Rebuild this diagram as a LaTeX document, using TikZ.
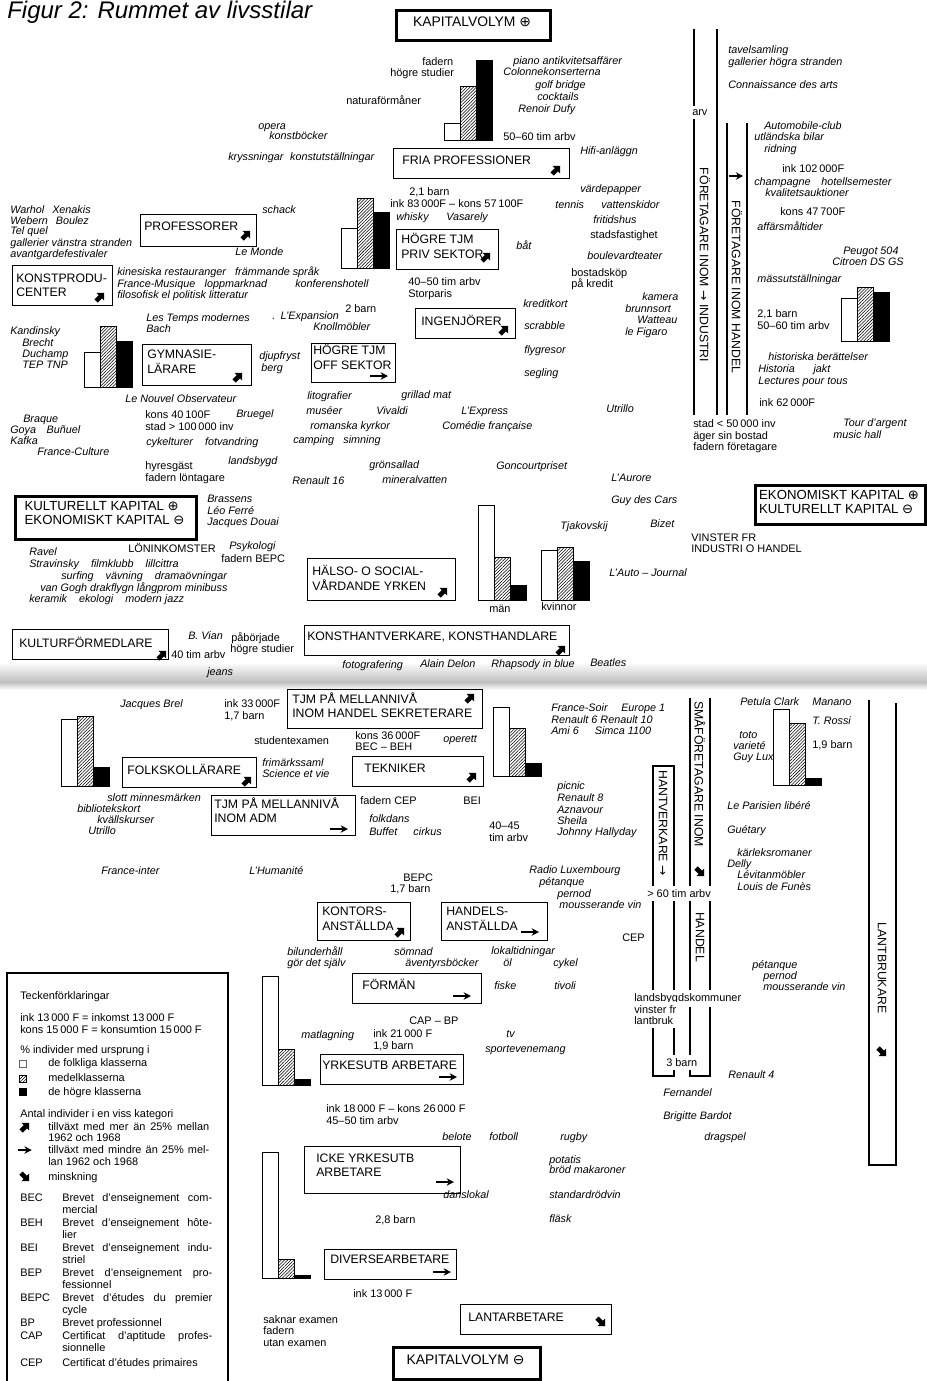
\documentclass[tikz,border=0pt]{standalone}
\usepackage{fontspec}
\setmainfont{Liberation Sans}
\newfontfamily\dejavu{DejaVu Sans}
\usetikzlibrary{patterns.meta,arrows.meta}
\newcounter{lb}
\tikzset{
 it/.style={font=\fontsize{8.1}{9.5}\selectfont\itshape,inner sep=0pt,anchor=mid west},
 rg/.style={font=\fontsize{8.2}{9.5}\selectfont,inner sep=0pt,anchor=mid west},
 box/.style={draw,line width=0.85pt,inner sep=0pt,anchor=north west},
 boxt/.style={font=\fontsize{9.2}{10.6}\selectfont,inner sep=0pt,anchor=west},
 kbox/.style={draw,line width=2.4pt,inner sep=0pt,anchor=north west},
 kboxt/.style={font=\fontsize{9.9}{10.6}\selectfont,inner sep=0pt,anchor=center},
 bar/.style={draw,line width=0.7pt},
 hatch/.style={pattern={Lines[angle=45,distance=1.7pt,line width=0.4pt]}},
 vl/.style={line width=0.8pt},
 vt/.style={font=\fontsize{9.2}{11}\selectfont,inner sep=0pt,rotate=-90},
 gup/.pic={\fill[rotate=45] (-5.5,-2.3) -- (0.5,-2.3) -- (0.5,-5.2) -- (6,0) -- (0.5,5.2) -- (0.5,2.3) -- (-5.5,2.3) -- cycle;},
 gdn/.pic={\fill[rotate=-45] (-5.5,-2.3) -- (0.5,-2.3) -- (0.5,-5.2) -- (6,0) -- (0.5,5.2) -- (0.5,2.3) -- (-5.5,2.3) -- cycle;},
 gth/.pic={\draw[line width=1.05pt,-{Stealth[length=5.5pt,width=5.5pt]}] (-9,0) -- (9,0);}
}
\newcommand\itx[3]{\stepcounter{lb}\node[it] (t\arabic{lb}) at (#1,#2) {#3};}
\newcommand\rgx[3]{\stepcounter{lb}\node[rg] (t\arabic{lb}) at (#1,#2) {#3};}
\newcommand\wtx[3]{\stepcounter{lb}\node[rg,fill=white,inner xsep=1.5pt,inner ysep=2.5pt] (t\arabic{lb}) at (#1,#2) {#3};}
\newcommand\jtx[4]{\stepcounter{lb}\pgfmathsetmacro\bxJ{#3*0.75}\node[rg] (t\arabic{lb}) at (#1,#2) {\makebox[\bxJ pt][s]{#4}};}
% \bx{name}{x1}{y1}{x2}{y2}{pad}{dy}{text}
\newcommand\bx[8]{%
 \pgfmathsetmacro\bxW{(#4-#2)*0.75}\pgfmathsetmacro\bxH{(#5-#3)*0.75}%
 \pgfmathsetmacro\bxY{(#3+#5)/2+#7}%
 \node[box,minimum width=\bxW pt,minimum height=\bxH pt] (#1) at (#2,#3) {};
 \node[boxt] (#1t) at ({#2+#6},\bxY) {\begin{tabular}{@{}l@{}}#8\end{tabular}};}
% \kbx{name}{x1}{y1}{x2}{y2}{dy}{text}
\newcommand\kbx[7]{%
 \pgfmathsetmacro\bxW{(#4-#2)*0.75}\pgfmathsetmacro\bxH{(#5-#3)*0.75}%
 \pgfmathsetmacro\bxY{(#3+#5)/2+#6}\pgfmathsetmacro\bxX{(#2+#4)/2}%
 \node[kbox,minimum width=\bxW pt,minimum height=\bxH pt] (#1) at (#2,#3) {};
 \node[kboxt] (#1t) at (\bxX,\bxY) {\begin{tabular}{@{}l@{}}#7\end{tabular}};}
\newcommand\bars[5]{%
 \draw[bar,fill=white] (#1,#3) rectangle ({#1+16},#2);
 \draw[bar,hatch] ({#1+16},#4) rectangle ({#1+32},#2);
 \draw[bar,fill=black] ({#1+32},#5) rectangle ({#1+48},#2);}
\begin{document}
\begin{tikzpicture}[x=0.75pt,y=-0.75pt]
\useasboundingbox (0,0) rectangle (927,1381);
\fill[white] (0,0) rectangle (927,1381);
\shade[top color=white,bottom color=black!25] (0,662) rectangle (927,682);
\shade[top color=black!25,bottom color=white] (0,682) rectangle (927,690);
\node[font=\fontsize{18}{22}\selectfont\itshape,anchor=base west,inner sep=0pt] (title) at (7,18) {Figur 2: Rummet av livsstilar};

% ---------- column frames, right side
\draw[vl] (694,29) -- (694,415);
\draw[vl] (717,29) -- (717,415);
\draw[vl] (727,123) -- (727,415);
\draw[vl] (747,123) -- (747,415);
\wtx{690}{112}{arv}
\node[vt] (findu) at (705,265) {FÖRETAGARE INOM {\dejavu →} INDUSTRI};
\node[vt] (fhand) at (737,287) {FÖRETAGARE INOM HANDEL};
\pic[scale=0.8] at (736,176) {gth};

\draw[vl] (653,766) rectangle (674,1076);
\draw[vl] (690,698) -- (690,1076) -- (710,1076) -- (710,698);
\draw[vl] (869,700) -- (869,1165) -- (896,1165) -- (896,703);
\node[vt] (hantv) at (663,823) {HANTVERKARE {\dejavu →}};
\node[vt] (smaf) at (700,774) {SMÅFÖRETAGARE INOM};
\pic at (700,872) {gdn};
\node[vt] (smah) at (700,937) {HANDEL};
\node[vt] (lantb) at (882,968) {LANTBRUKARE};
\pic at (882,1052) {gdn};
\wtx{645}{894}{> 60 tim arbv}
\wtx{632}{998}{landsbygdskommuner}
\wtx{632}{1010}{vinster fr}
\wtx{632}{1021}{lantbruk}
\wtx{664}{1063}{3 barn}

% ---------- top centre
\kbx{kvp}{395}{9}{549}{39}{0}{\fontsize{10.4}{11}\selectfont KAPITALVOLYM {\dejavu ⊕}}
\rgx{422}{62}{fadern}
\rgx{390}{73}{högre studier}
\rgx{346}{101}{naturaförmåner}
\bars{444}{140}{123}{86}{60}
\itx{513}{61}{piano antikvitetsaffärer}
\itx{503}{72}{Colonnekonserterna}
\itx{535}{85}{golf bridge}
\itx{537}{97}{cocktails}
\itx{518}{109}{Renoir Dufy}
\rgx{503}{137}{50–60 tim arbv}
\itx{258}{126}{opera}
\itx{269}{136}{konstböcker}
\itx{228}{157}{kryssningar\hspace{5pt}konstutställningar}
\itx{580}{151}{Hifi-anläggn}
\bx{fp}{393}{148}{569}{178}{9}{-1}{FRIA PROFESSIONER}
\pic at (556,170) {gup};
\rgx{409}{192}{2,1 barn}
\rgx{390}{204}{ink 83\,000F – kons 57\,100F}
\itx{396}{217}{whisky}
\itx{446}{217}{Vasarely}
\bars{341}{268}{228}{198}{212}
\bx{htps}{396}{229}{498}{269}{5}{-1}{HÖGRE TJM\\PRIV SEKTOR}
\pic at (486,257) {gup};
\itx{516}{246}{båt}
\rgx{408}{282}{40–50 tim arbv}
\rgx{408}{294}{Storparis}
\itx{580}{189}{värdepapper}
\itx{555}{205}{tennis}
\itx{601}{205}{vattenskidor}
\itx{593}{220}{fritidshus}
\rgx{590}{235}{stadsfastighet}
\itx{587}{256}{boulevardteater}
\rgx{571}{273}{bostadsköp}
\rgx{571}{284}{på kredit}
\itx{642}{297}{kamera}
\itx{625}{309}{brunnsort}
\itx{637}{320}{Watteau}
\itx{625}{332}{le Figaro}

% ---------- top left
\itx{10}{210}{Warhol\hspace{6pt}Xenakis}
\itx{10}{221}{Webern\hspace{6pt}Boulez}
\itx{10}{231}{Tel quel}
\itx{10}{243}{gallerier vänstra stranden}
\itx{10}{254}{avantgardefestivaler}
\bx{prof}{140}{214}{256}{246}{4}{-2}{PROFESSORER}
\pic at (246,235) {gup};
\itx{262}{210}{schack}
\itx{235}{252}{Le Monde}
\bx{kpc}{12}{265}{112}{305}{4}{2}{KONSTPRODU-\\CENTER}
\pic at (100,297) {gup};
\itx{117}{272}{kinesiska restauranger\hspace{7pt}främmande språk}
\itx{117}{284}{France-Musique\hspace{7pt}loppmarknad}
\itx{117}{295}{filosofisk el politisk litteratur}
\itx{295}{284}{konferenshotell}
\itx{146}{318}{Les Temps modernes}
\itx{146}{329}{Bach}
\itx{272}{316}{.\hspace{4pt}L'Expansion}
\itx{313}{327}{Knollmöbler}
\rgx{345}{309}{2 barn}
\itx{10}{331}{Kandinsky}
\itx{22}{343}{Brecht}
\itx{22}{354}{Duchamp}
\itx{22}{365}{TEP TNP}
\bars{84}{387}{352}{326}{341}
\bx{gym}{142}{344}{251}{385}{5}{-1.5}{GYMNASIE-\\LÄRARE}
\pic at (238,377) {gup};
\itx{259}{356}{djupfryst}
\itx{261}{368}{berg}
\bx{htos}{311}{343}{395}{382}{2}{-3.5}{HÖGRE TJM\\OFF SEKTOR}
\pic at (379,376) {gth};
\bx{ing}{415}{308}{515}{338}{6}{-1}{INGENJÖRER}
\pic at (504,330) {gup};
\itx{523}{304}{kreditkort}
\itx{524}{326}{scrabble}
\itx{524}{350}{flygresor}
\itx{524}{373}{segling}

% ---------- middle band
\itx{125}{399}{Le Nouvel Observateur}
\itx{307}{396}{litografier}
\itx{401}{395}{grillad mat}
\itx{306}{411}{muséer}
\itx{376}{411}{Vivaldi}
\itx{461}{411}{L'Express}
\itx{310}{426}{romanska kyrkor}
\itx{442}{426}{Comédie française}
\itx{293}{440}{camping\hspace{7pt}simning}
\itx{606}{409}{Utrillo}
\rgx{145}{415}{kons 40\,100F}
\itx{236}{414}{Bruegel}
\rgx{145}{427}{stad > 100\,000 inv}
\itx{23}{419}{Braque}
\itx{10}{430}{Goya\hspace{8pt}Buñuel}
\itx{10}{441}{Kafka}
\itx{37}{452}{France-Culture}
\itx{146}{442}{cykelturer\hspace{9pt}fotvandring}
\itx{228}{461}{landsbygd}
\rgx{145}{466}{hyresgäst}
\rgx{145}{478}{fadern löntagare}
\itx{292}{481}{Renault 16}
\itx{369}{465}{grönsallad}
\itx{382}{480}{mineralvatten}
\itx{496}{466}{Goncourtpriset}
\itx{611}{478}{L'Aurore}
\itx{611}{500}{Guy des Cars}
\itx{650}{524}{Bizet}
\itx{560}{526}{Tjakovskij}
\itx{609}{573}{L'Auto – Journal}
\kbx{kek}{14}{495}{195}{538}{-1.5}{KULTURELLT KAPITAL {\dejavu ⊕}\\EKONOMISKT KAPITAL {\dejavu ⊖}}
\itx{207}{499}{Brassens}
\itx{207}{511}{Léo Ferré}
\itx{207}{522}{Jacques Douai}
\rgx{128}{549}{LÖNINKOMSTER}
\itx{229}{546}{Psykologi}
\rgx{221}{559}{fadern BEPC}
\itx{29}{552}{Ravel}
\itx{29}{564}{Stravinsky\hspace{9pt}filmklubb\hspace{9pt}lillcittra}
\itx{61}{576}{surfing\hspace{9pt}vävning\hspace{9pt}dramaövningar}
\itx{40}{588}{van Gogh drakflygn långprom minibuss}
\itx{29}{599}{keramik\hspace{9pt}ekologi\hspace{9pt}modern jazz}
\bx{halso}{307}{558}{455}{600}{5}{1}{HÄLSO- O SOCIAL-\\VÅRDANDE YRKEN}
\pic at (443,592) {gup};
\bars{478}{600}{505}{557}{585}
\bars{541}{600}{550}{547}{561}
\rgx{489}{609}{män}
\rgx{541}{607}{kvinnor}
\bx{kform}{12}{629}{168}{659}{7}{0}{KULTURFÖRMEDLARE}
\pic at (162,655) {gup};
\itx{188}{636}{B. Vian}
\rgx{171}{655}{40 tim arbv}
\rgx{231}{638}{påbörjade}
\rgx{230}{649}{högre studier}
\itx{207}{672}{jeans}
\bx{konsth}{304}{625}{569}{655}{3}{-2}{KONSTHANTVERKARE, KONSTHANDLARE}
\pic at (561,650) {gup};
\itx{342}{665}{fotografering}
\itx{420}{664}{Alain Delon}
\itx{491}{664}{Rhapsody in blue}
\itx{590}{663}{Beatles}

% ---------- top right
\itx{728}{50}{tavelsamling}
\itx{728}{62}{gallerier högra stranden}
\itx{728}{85}{Connaissance des arts}
\itx{764}{126}{Automobile-club}
\itx{754}{137}{utländska bilar}
\itx{764}{149}{ridning}
\rgx{782}{169}{ink 102\,000F}
\itx{754}{182}{champagne\hspace{8pt}hotellsemester}
\itx{765}{193}{kvalitetsauktioner}
\rgx{780}{212}{kons 47\,700F}
\itx{757}{227}{affärsmåltider}
\itx{843}{251}{Peugot 504}
\itx{832}{262}{Citroen DS GS}
\itx{757}{279}{mässutställningar}
\bars{841}{341}{298}{287}{292}
\rgx{757}{314}{2,1 barn}
\rgx{757}{326}{50–60 tim arbv}
\itx{768}{357}{historiska berättelser}
\itx{758}{369}{Historia\hspace{14pt}jakt}
\itx{758}{381}{Lectures pour tous}
\rgx{759}{403}{ink 62\,000F}
\rgx{693}{424}{stad < 50\,000 inv}
\rgx{693}{436}{äger sin bostad}
\rgx{693}{447}{fadern företagare}
\itx{843}{423}{Tour d'argent}
\itx{833}{435}{music hall}
\kbx{eku}{754}{484}{924}{523}{0}{EKONOMISKT KAPITAL {\dejavu ⊕}\\KULTURELLT KAPITAL {\dejavu ⊖}}
\rgx{691}{538}{VINSTER FR}
\rgx{691}{549}{INDUSTRI O HANDEL}

% ---------- lower half
\itx{120}{704}{Jacques Brel}
\rgx{224}{704}{ink 33\,000F}
\rgx{224}{716}{1,7 barn}
\bx{tjmh}{287}{689}{482}{728}{5}{-1}{TJM PÅ MELLANNIVÅ\\INOM HANDEL SEKRETERARE}
\pic at (470,698) {gup};
\rgx{254}{741}{studentexamen}
\rgx{355}{736}{kons 36\,000F}
\rgx{355}{747}{BEC – BEH}
\itx{443}{739}{operett}
\bars{61}{786}{719}{716}{767}
\bx{folk}{122}{757}{256}{787}{5}{-1}{FOLKSKOLLÄRARE}
\pic at (247,781) {gup};
\itx{262}{763}{frimärkssaml}
\itx{262}{774}{Science et vie}
\bx{tekn}{352}{756}{483}{786}{12}{-1}{TEKNIKER}
\pic at (472,777) {gup};
\bars{493}{776}{707}{728}{763}
\itx{551}{708}{France-Soir}
\itx{621}{708}{Europe 1}
\itx{551}{720}{Renault 6 Renault 10}
\itx{551}{731}{Ami 6\hspace{12pt}Simca 1100}
\itx{107}{798}{slott minnesmärken}
\itx{77}{809}{bibliotekskort}
\itx{97}{820}{kvällskurser}
\itx{88}{831}{Utrillo}
\bx{tjma}{211}{795}{355}{835}{3}{-3}{TJM PÅ MELLANNIVÅ\\INOM ADM}
\pic at (339,829) {gth};
\rgx{360}{801}{fadern CEP}
\rgx{463}{801}{BEI}
\itx{369}{819}{folkdans}
\itx{369}{832}{Buffet\hspace{12pt}cirkus}
\rgx{489}{826}{40–45}
\rgx{489}{838}{tim arbv}
\itx{557}{786}{picnic}
\itx{557}{798}{Renault 8}
\itx{557}{810}{Aznavour}
\itx{557}{821}{Sheila}
\itx{557}{832}{Johnny Hallyday}
\itx{101}{871}{France-inter}
\itx{249}{871}{L'Humanité}
\rgx{403}{878}{BEPC}
\rgx{390}{889}{1,7 barn}
\itx{529}{870}{Radio Luxembourg}
\itx{539}{882}{pétanque}
\itx{557}{894}{pernod}
\itx{559}{905}{mousserande vin}
\bx{kont}{317}{902}{410}{940}{5}{-1}{KONTORS-\\ANSTÄLLDA}
\pic at (400,932) {gup};
\bx{hand}{441}{902}{547}{940}{5}{-1}{HANDELS-\\ANSTÄLLDA}
\pic at (530,932) {gth};
\rgx{622}{938}{CEP}
\itx{287}{952}{bilunderhåll}
\itx{287}{963}{gör det själv}
\itx{394}{952}{sömnad}
\itx{405}{963}{äventyrsböcker}
\itx{491}{951}{lokaltidningar}
\itx{503}{963}{öl}
\itx{553}{963}{cykel}
\bx{form}{352}{973}{481}{1003}{10}{-2}{FÖRMÄN}
\pic at (462,996) {gth};
\itx{494}{986}{fiske}
\itx{554}{986}{tivoli}

\bars{262}{1085}{976}{1049}{1079}
\itx{301}{1035}{matlagning}
\rgx{373}{1034}{ink 21\,000 F}
\rgx{373}{1046}{1,9 barn}
\rgx{409}{1021}{CAP – BP}
\itx{506}{1034}{tv}
\itx{485}{1049}{sportevenemang}
\bx{yrk}{320}{1054}{463}{1084}{2}{-2}{YRKESUTB ARBETARE}
\pic at (448,1077) {gth};
\rgx{326}{1109}{ink 18\,000 F – kons 26\,000 F}
\rgx{326}{1121}{45–50 tim arbv}
\itx{442}{1137}{belote}
\itx{489}{1137}{fotboll}
\itx{560}{1137}{rugby}
\bars{262}{1278}{1152}{1259}{1275}
\bx{icke}{304}{1146}{460}{1193}{12}{-2.5}{ICKE YRKESUTB\\ARBETARE}
\pic at (445,1182) {gth};
\itx{549}{1160}{potatis}
\itx{549}{1170}{bröd makaroner}
\itx{443}{1195}{danslokal}
\itx{549}{1195}{standardrödvin}
\itx{549}{1219}{fläsk}
\rgx{375}{1220}{2,8 barn}
\bx{div}{324}{1249}{456}{1279}{6}{-3}{DIVERSEARBETARE}
\pic at (442,1272) {gth};
\rgx{353}{1294}{ink 13\,000 F}
\rgx{263}{1320}{saknar examen}
\rgx{263}{1331}{fadern}
\rgx{263}{1343}{utan examen}
\bx{lantarb}{460}{1304}{611}{1334}{8}{0}{LANTARBETARE}
\pic at (601,1322) {gdn};
\kbx{kvm}{392}{1346}{539}{1378}{0}{\fontsize{10.4}{11}\selectfont KAPITALVOLYM {\dejavu ⊖}}

% ---------- lower right
\itx{740}{702}{Petula Clark}
\itx{812}{702}{Manano}
\itx{812}{721}{T. Rossi}
\itx{739}{735}{toto}
\itx{733}{746}{varieté}
\itx{733}{757}{Guy Lux}
\rgx{812}{745}{1,9 barn}
\bars{773}{785}{709}{723}{778}
\itx{727}{806}{Le Parisien libéré}
\itx{727}{830}{Guétary}
\itx{737}{853}{kärleksromaner}
\itx{727}{864}{Delly}
\itx{737}{875}{Lévitanmöbler}
\itx{737}{887}{Louis de Funès}
\itx{752}{965}{pétanque}
\itx{763}{976}{pernod}
\itx{763}{987}{mousserande vin}
\itx{728}{1075}{Renault 4}
\itx{663}{1093}{Fernandel}
\itx{663}{1116}{Brigitte Bardot}
\itx{704}{1137}{dragspel}

% ---------- legend
\draw[line width=0.8pt] (7,973) rectangle (228,1382);
\rgx{20}{996}{Teckenförklaringar}
\rgx{20}{1018}{ink 13\,000 F = inkomst 13\,000 F}
\rgx{20}{1030}{kons 15\,000 F = konsumtion 15\,000 F}
\rgx{20}{1050}{\% individer med ursprung i}
\draw[line width=0.5pt,black!60] (19,1060) rectangle (26,1067);
\draw[line width=0.5pt,hatch] (19,1075) rectangle (26,1082);
\fill (19,1088) rectangle (27,1096);
\rgx{48}{1063}{de folkliga klasserna}
\rgx{48}{1078}{medelklasserna}
\rgx{48}{1092}{de högre klasserna}
\rgx{20}{1114}{Antal individer i en viss kategori}
\pic at (25,1127) {gup};
\pic[scale=0.75] at (25,1150) {gth};
\pic at (25,1177) {gdn};
\jtx{48}{1127}{161}{tillväxt med mer än 25\% mellan}
\rgx{48}{1138}{1962 och 1968}
\jtx{48}{1150}{161}{tillväxt med mindre än 25\% mel-}
\rgx{48}{1162}{lan 1962 och 1968}
\rgx{48}{1177}{minskning}
\rgx{20}{1198}{BEC}\jtx{62}{1198}{150}{Brevet d'enseignement com-}\rgx{62}{1210}{mercial}
\rgx{20}{1223}{BEH}\jtx{62}{1223}{150}{Brevet d'enseignement hôte-}\rgx{62}{1235}{lier}
\rgx{20}{1248}{BEI}\jtx{62}{1248}{150}{Brevet d'enseignement indu-}\rgx{62}{1260}{striel}
\rgx{20}{1273}{BEP}\jtx{62}{1273}{150}{Brevet d'enseignement pro-}\rgx{62}{1285}{fessionnel}
\rgx{20}{1298}{BEPC}\jtx{62}{1298}{150}{Brevet d'études du premier}\rgx{62}{1310}{cycle}
\rgx{20}{1323}{BP}\rgx{62}{1323}{Brevet professionnel}
\rgx{20}{1336}{CAP}\jtx{62}{1336}{150}{Certificat d'aptitude profes-}\rgx{62}{1348}{sionnelle}
\rgx{20}{1363}{CEP}\rgx{62}{1363}{Certificat d'études primaires}
\end{tikzpicture}
\end{document}
